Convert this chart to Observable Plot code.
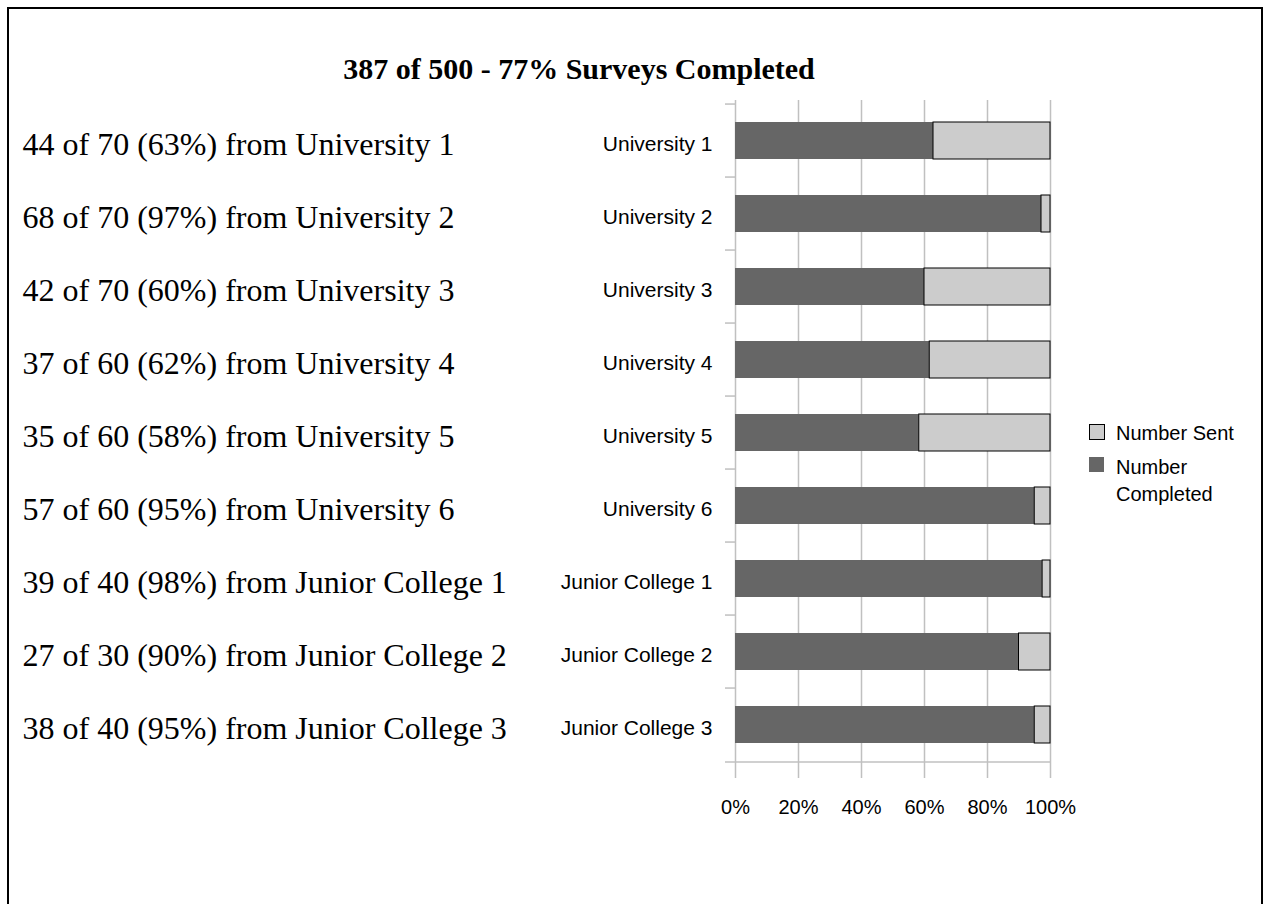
<!DOCTYPE html>
<html><head><meta charset="utf-8">
<script src="https://cdn.jsdelivr.net/npm/d3@7"></script>
<script src="https://cdn.jsdelivr.net/npm/@observablehq/plot@0.6"></script>
<style>
body{margin:0;background:#fff;}
#wrap{position:relative;width:1267px;height:904px;overflow:hidden;background:#fff;}
#frame{position:absolute;left:7px;top:7px;width:1252px;height:1000px;border:2px solid #000;}
#title{position:absolute;left:0;width:1158px;top:54px;text-align:center;font:bold 30px "Liberation Serif","Times New Roman",serif;line-height:30px;color:#000;}
#chart{position:absolute;left:0;top:0;}
.sw{position:absolute;box-sizing:border-box;}
.lt{position:absolute;left:1116px;font:20px "Liberation Sans",Arial,sans-serif;line-height:27px;color:#000;}
</style>
</head><body>
<div id="wrap">
  <div id="frame"></div>
  <div id="title">387 of 500 - 77% Surveys Completed</div>
  <div id="chart"></div>
  <div class="sw" style="left:1089px;top:424px;width:16px;height:16px;background:#cccccc;border:1px solid #000;"></div>
  <div class="sw" style="left:1089px;top:457px;width:15px;height:15px;background:#666666;"></div>
  <div class="lt" style="top:420px;">Number Sent</div>
  <div class="lt" style="top:454px;">Number<br>Completed</div>
</div>
<script>
const names = ["University 1","University 2","University 3","University 4","University 5","University 6","Junior College 1","Junior College 2","Junior College 3"];
const completed = [44,68,42,37,35,57,39,27,38];
const sent = [70,70,70,60,60,60,40,30,40];
const xTicks = [0,0.2,0.4,0.6,0.8,1];

const rows = names.map((n,i)=>({name:n, completed:completed[i], sent:sent[i], frac:completed[i]/sent[i]}));
const step = (765-100)/names.length;

const chart = Plot.plot({
  width:1267, height:904,
  marginTop:100, marginBottom:139, marginLeft:735, marginRight:217,
  style:{fontFamily:"'Liberation Sans', Arial, sans-serif", background:"transparent", color:"#000"},
  x:{domain:[0,1], label:null},
  y:{domain:names, paddingInner:0.49, paddingOuter:0.245, label:null},
  marks:[
    Plot.ruleX(xTicks, {stroke:"#c0c0c0", strokeWidth:1.5, insetBottom:-13}),
    Plot.barX(rows, {y:"name", x1:0, x2:"frac", fill:"#666666"}),
    Plot.barX(rows, {y:"name", x1:"frac", x2:1, fill:"#cccccc", stroke:"#000", strokeWidth:1}),
    Plot.ruleY(names, {y:d=>d, x1:0, x2:0, insetLeft:-10, dy:-step/2, stroke:"#c0c0c0", strokeWidth:1.5}),
    Plot.ruleY([names[names.length-1]], {y:d=>d, x1:0, x2:1, insetLeft:-10, dy:step/2, stroke:"#c0c0c0", strokeWidth:1.5}),
    Plot.axisY({tickSize:0, tickPadding:23, fontSize:21, dy:3, label:null}),
    Plot.axisX({ticks:xTicks, tickFormat:d=>Math.round(d*100)+"%", tickSize:0, tickPadding:34, fontSize:20, label:null}),
    Plot.text(rows, {y:"name", text:d=>`${d.completed} of ${d.sent} (${Math.round(d.completed*100/d.sent)}%) from ${d.name}`,
      frameAnchor:"left", textAnchor:"start", dx:22-735, dy:4, fontFamily:"'Liberation Serif','Times New Roman',serif", fontSize:32, fill:"#000"})
  ]
});
document.getElementById("chart").appendChild(chart);
</script>
</body></html>
